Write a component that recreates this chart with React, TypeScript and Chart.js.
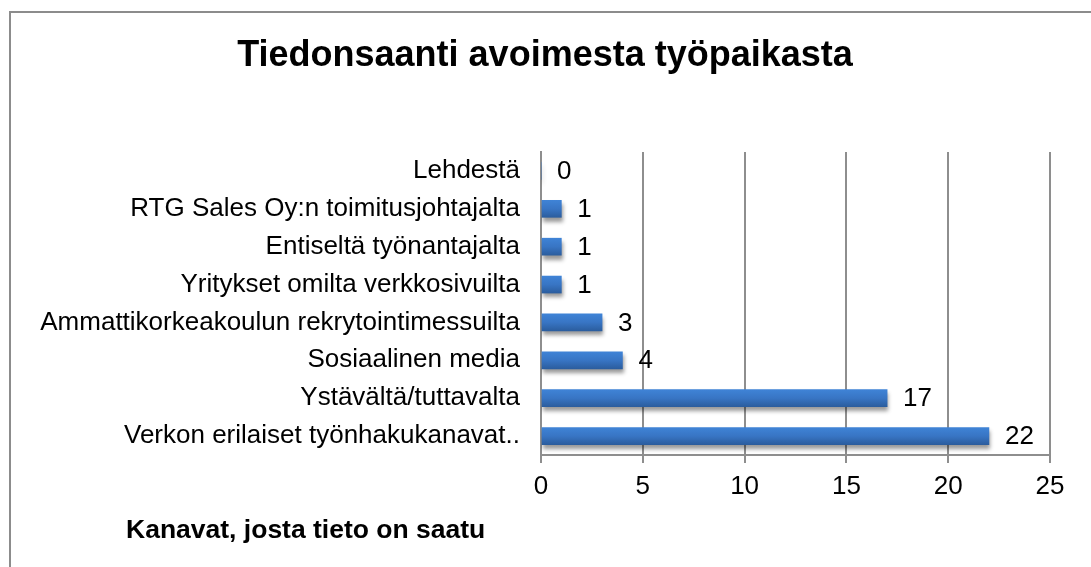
import React, { useEffect, useRef } from "react";
import { Chart, registerables } from "chart.js";

Chart.register(...registerables);

const TITLE = "Tiedonsaanti avoimesta työpaikasta";
const AXIS_NOTE = "Kanavat, josta tieto on saatu";
const categories = [
  "Lehdestä",
  "RTG Sales Oy:n toimitusjohtajalta",
  "Entiseltä työnantajalta",
  "Yritykset omilta verkkosivuilta",
  "Ammattikorkeakoulun rekrytointimessuilta",
  "Sosiaalinen media",
  "Ystävältä/tuttavalta",
  "Verkon erilaiset työnhakukanavat..",
];
const values = [0, 1, 1, 1, 3, 4, 17, 22];
const xTicks = [0, 5, 10, 15, 20, 25];

const FONT = "'Liberation Sans', Arial, sans-serif";
const GRID = "#8e8e8e";

const decorPlugin = {
  id: "decor",
  beforeDraw(chart: any) {
    const ctx = chart.ctx;
    ctx.save();
    ctx.fillStyle = "#ffffff";
    ctx.fillRect(0, 0, chart.width, chart.height);
    ctx.strokeStyle = "#8c8c8c";
    ctx.lineWidth = 2;
    ctx.beginPath();
    ctx.moveTo(10, chart.height + 2);
    ctx.lineTo(10, 12);
    ctx.lineTo(chart.width + 2, 12);
    ctx.stroke();
    ctx.fillStyle = "#000";
    ctx.font = `bold 36px ${FONT}`;
    ctx.textAlign = "center";
    ctx.textBaseline = "alphabetic";
    ctx.fillText(TITLE, 545, 66);
    ctx.font = `bold 26.5px ${FONT}`;
    ctx.textAlign = "left";
    ctx.fillText(AXIS_NOTE, 126, 538);
    ctx.restore();
  },
  beforeDatasetsDraw(chart: any) {
    const ctx = chart.ctx;
    ctx.save();
    ctx.shadowColor = "rgba(0,0,0,0.4)";
    ctx.shadowOffsetY = 4;
    ctx.shadowOffsetX = 1;
    ctx.shadowBlur = 4;
  },
  afterDatasetsDraw(chart: any) {
    const ctx = chart.ctx;
    ctx.restore();
    ctx.save();
    ctx.fillStyle = "#000";
    ctx.font = `26px ${FONT}`;
    ctx.textAlign = "left";
    ctx.textBaseline = "middle";
    const meta = chart.getDatasetMeta(0);
    meta.data.forEach((el: any, i: number) => {
      ctx.fillText(String(values[i]), el.x + 16, el.y + 1);
    });
    ctx.restore();
  },
};

export default function App() {
  const ref = useRef<HTMLCanvasElement | null>(null);
  useEffect(() => {
    if (!ref.current) return;
    const chart = new Chart(ref.current, {
      type: "bar",
      data: {
        labels: categories,
        datasets: [
          {
            data: values,
            barThickness: 17,
            borderWidth: 0,
            backgroundColor: (c: any) => {
              const ch = c.chart;
              const ys = ch.scales && ch.scales.y;
              if (!ch.chartArea || !ys) return "#3a74c2";
              const y = ys.getPixelForValue(c.dataIndex);
              const g = ch.ctx.createLinearGradient(0, y - 8.5, 0, y + 8.5);
              g.addColorStop(0, "#3f83d6");
              g.addColorStop(0.5, "#3875c4");
              g.addColorStop(1, "#2b5d9e");
              return g;
            },
          },
        ],
      },
      options: {
        indexAxis: "y",
        animation: false,
        responsive: false,
        devicePixelRatio: 1,
        layout: { padding: { top: 152, right: 41, left: 0, bottom: 0 } },
        plugins: {
          legend: { display: false },
          title: { display: false },
          tooltip: { enabled: false },
        },
        scales: {
          x: {
            min: 0,
            max: 25,
            afterBuildTicks: (s: any) => {
              s.ticks = xTicks.map((v) => ({ value: v }));
            },
            afterFit: (s: any) => {
              s.height = 112;
            },
            grid: { color: GRID, lineWidth: 2, tickLength: 8, drawTicks: true },
            border: { display: true, color: GRID, width: 2 },
            ticks: {
              color: "#000",
              font: { family: FONT, size: 26 },
              padding: 8,
              maxRotation: 0,
            },
          },
          y: {
            afterFit: (s: any) => {
              s.width = 541;
            },
            grid: { display: true, drawOnChartArea: false, drawTicks: false, color: GRID },
            border: { display: true, color: GRID, width: 2 },
            ticks: {
              color: "#000",
              font: { family: FONT, size: 26 },
              padding: 21,
              autoSkip: false,
            },
          },
        },
      },
      plugins: [decorPlugin],
    } as any);
    return () => chart.destroy();
  }, []);
  return (
    <div style={{ position: "fixed", left: 0, top: 0, width: 1091, height: 567, background: "#fff" }}>
      <canvas ref={ref} width={1091} height={567} style={{ display: "block", width: 1091, height: 567 }} />
    </div>
  );
}
